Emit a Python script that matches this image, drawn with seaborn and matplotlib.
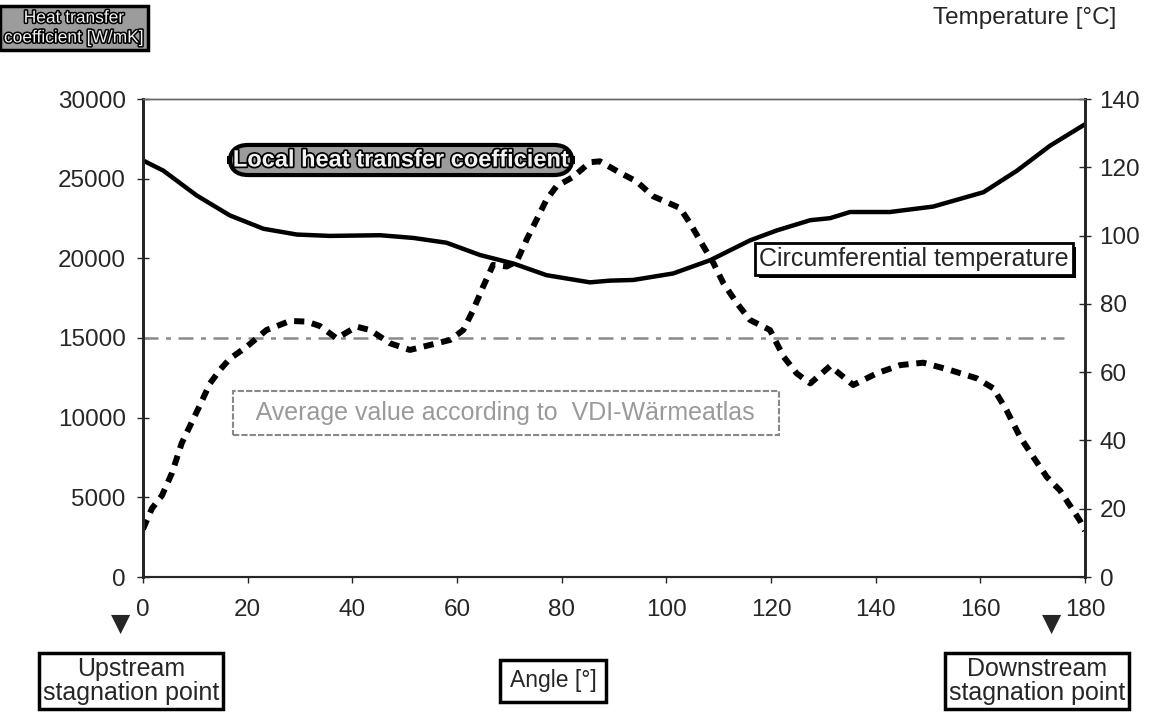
import pandas as pd
import seaborn as sns
import matplotlib.pyplot as plt
import matplotlib.patheffects as pe

# local heat transfer coefficient [W/m²K] over angle
htc_angle = [0, 1.7, 3.6, 5.5, 7.4, 9.3, 10.9, 12.8, 14.7, 16.6, 19.8, 23.6, 28.1, 31.3,
             33.8, 37, 40.8, 43.4, 47.2, 51, 54.8, 58.7, 61.2, 63.1, 65, 66.9, 69.5, 71.4,
             73.3, 75.2, 77.1, 79, 82.2, 85.4, 87.3, 91.2, 94.3, 97.5, 102.6, 104.5, 107.1,
             109, 110.9, 113.5, 116, 119.8, 122.4, 124.9, 127.5, 131.3, 135.7, 140.2, 144.7,
             149.1, 154.2, 159.3, 162.5, 165, 167.6, 170.1, 172.7, 175.2, 177.1, 179, 180]
htc = [3000, 4300, 5100, 6500, 8400, 9700, 10800, 12150, 13000, 13700, 14450, 15500, 16070,
       16030, 15750, 14980, 15710, 15500, 14670, 14250, 14560, 14880, 15500, 16760, 18230,
       19590, 19490, 19800, 21170, 22420, 23680, 24520, 25110, 26030, 26090, 25360, 24830,
       23890, 23160, 22220, 20750, 19700, 18440, 17180, 16130, 15500, 13830, 12780, 12150,
       13240, 12050, 12780, 13300, 13450, 12990, 12470, 11840, 10470, 8790, 7540, 6280,
       5440, 4500, 3550, 2900]

# circumferential temperature [°C]
temp_angle = [0, 3.9, 10.3, 16.6, 23, 29.4, 35.7, 45.3, 51.7, 58, 64.4, 70.8, 77.1, 85.4,
              89.2, 93.7, 101.3, 108.4, 116, 121.1, 127.5, 131.3, 135.1, 142.7, 151, 160.6,
              167, 173.3, 180]
temp = [122, 119, 111.7, 105.9, 102, 100.3, 99.9, 100.1, 99.3, 97.9, 94.3, 91.8, 88.4, 86.3,
        86.8, 87, 88.9, 92.8, 98.6, 101.5, 104.5, 105.1, 106.9, 106.9, 108.5, 112.7, 119,
        126.3, 132.6]

# VDI-Wärmeatlas average
avg_angle = [0, 176]
avg_htc = [15000, 15000]

x_ticks = list(range(0, 181, 20))
left_ticks = list(range(0, 30001, 5000))
right_ticks = list(range(0, 141, 20))

df_htc = pd.DataFrame({'angle': htc_angle, 'htc': htc})
df_temp = pd.DataFrame({'angle': temp_angle, 'temp': temp})
df_avg = pd.DataFrame({'angle': avg_angle, 'htc': avg_htc})

sns.set_style('ticks')
plt.rcParams['font.family'] = ['Liberation Sans', 'DejaVu Sans']

W, H = 1151, 712
fig = plt.figure(figsize=(W / 100, H / 100), dpi=100)
ax = fig.add_axes([143 / W, 1 - 577 / H, (1085 - 143) / W, (577 - 99) / H])
ax2 = ax.twinx()

sns.lineplot(data=df_avg, x='angle', y='htc', ax=ax, color='#8a8a8a', linewidth=1.8,
             linestyle=(0, (6, 3, 2, 3)))
sns.lineplot(data=df_htc, x='angle', y='htc', ax=ax, color='black', linewidth=4.3,
             linestyle=(0, (1.7, 1.3)))
sns.lineplot(data=df_temp, x='angle', y='temp', ax=ax2, color='black', linewidth=3.2)

ax.set_xlim(0, 180)
ax.set_ylim(0, 30000)
ax2.set_ylim(0, 140)
ax.set_xticks(x_ticks)
ax.set_yticks(left_ticks)
ax2.set_yticks(right_ticks)
ax.set_xlabel('')
ax.set_ylabel('')
ax2.set_ylabel('')

ax.tick_params(axis='y', labelsize=17.5, direction='inout', length=9, width=1, pad=8)
ax.tick_params(axis='x', labelsize=17.5, direction='out', length=4, width=1, pad=12)
ax2.tick_params(axis='y', labelsize=17.5, direction='inout', length=9, width=1, pad=6)

for a in (ax, ax2):
    a.spines['left'].set_linewidth(2)
    a.spines['bottom'].set_linewidth(1.5)
    a.spines['right'].set_linewidth(2)
    a.spines['top'].set_linewidth(1)
    a.spines['top'].set_color('#666666')
    a.spines['top'].set_linestyle((0, (4, 1)))

def fx(x):
    return x / W

def fy(y):
    return 1 - y / H

outline = [pe.withStroke(linewidth=2.5, foreground='black')]

fig.text(fx(74), fy(28), 'Heat transfer\ncoefficient [W/mK]', fontsize=12.5,
         color='#f2f2f2', ha='center', va='center',
         linespacing=1.4, path_effects=[pe.withStroke(linewidth=2.2, foreground='black')],
         bbox=dict(boxstyle='square,pad=0.25', facecolor='#9c9c9c',
                   edgecolor='black', linewidth=2.5))

fig.text(fx(1025), fy(18), 'Temperature [°C]', fontsize=17.5, ha='center', va='center')

fig.text(fx(401), fy(160), 'Local heat transfer coefficient', fontsize=17,
         fontweight='bold', color='#f2f2f2', ha='center', va='center',
         path_effects=outline,
         bbox=dict(boxstyle='round,pad=0.15,rounding_size=0.8', facecolor='#9c9c9c',
                   edgecolor='black', linewidth=3))

ct = fig.text(fx(914), fy(259), 'Circumferential temperature', fontsize=18,
              ha='center', va='center',
              bbox=dict(boxstyle='square,pad=0.15', facecolor='white',
                        edgecolor='black', linewidth=2))
ct.get_bbox_patch().set_path_effects([
    pe.SimplePatchShadow(offset=(2.5, -2.5), shadow_rgbFace='black', alpha=1),
    pe.Normal()])

fig.text(fx(506), fy(413), '  Average value according to  VDI-Wärmeatlas  ', fontsize=18,
         color='#9a9a9a', ha='center', va='center',
         bbox=dict(boxstyle='square,pad=0.4', facecolor='white',
                   edgecolor='#888888', linewidth=1.5, linestyle=(0, (3, 1))))

box = dict(boxstyle='square,pad=0.15', facecolor='white', edgecolor='black', linewidth=2.5)
fig.text(fx(131), fy(681), 'Upstream\nstagnation point', fontsize=18, ha='center',
         va='center', linespacing=1.05, bbox=box)
fig.text(fx(553), fy(681), 'Angle [°]', fontsize=16.5, ha='center', va='center',
         bbox=dict(boxstyle='square,pad=0.4', facecolor='white', edgecolor='black',
                   linewidth=2.5))
fig.text(fx(1037), fy(681), 'Downstream\nstagnation point', fontsize=18, ha='center',
         va='center', linespacing=1.05, bbox=box)

# stagnation point markers
fig.text(fx(121), fy(624), '▼', fontsize=18, ha='center', va='center',
         family=['DejaVu Sans'])
fig.text(fx(1052), fy(624), '▼', fontsize=18, ha='center', va='center',
         family=['DejaVu Sans'])

fig.savefig('out.png', dpi=100)
